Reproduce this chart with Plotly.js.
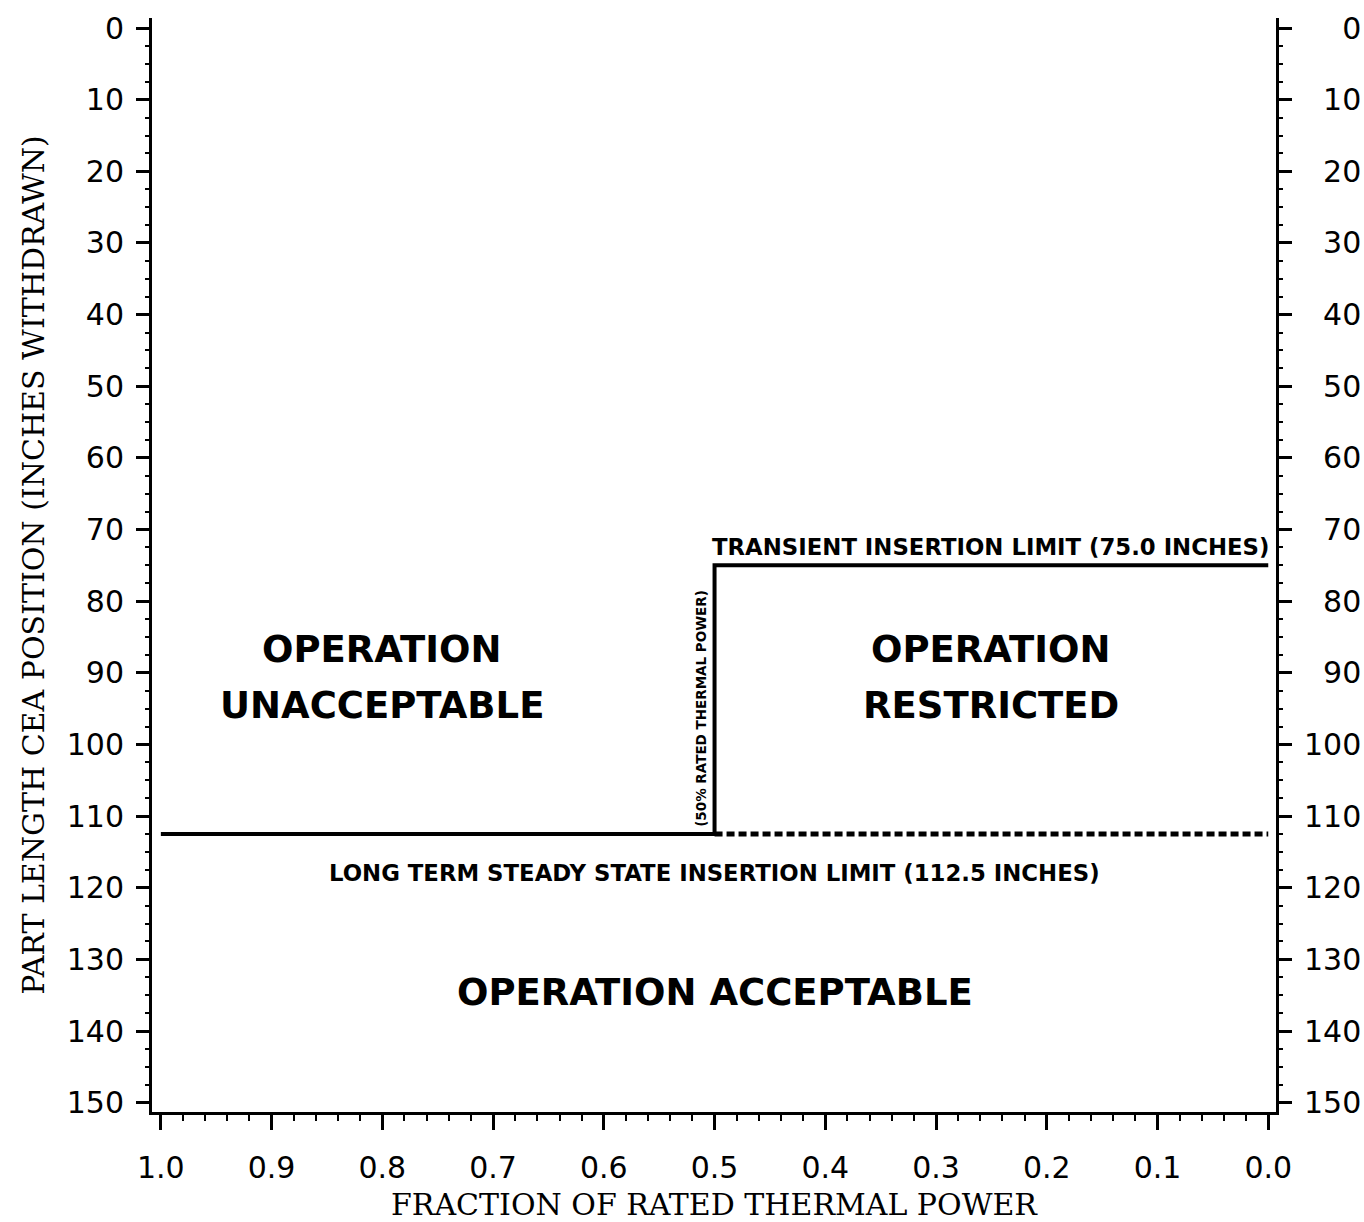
<!DOCTYPE html>
<html>
<head>
<meta charset="utf-8">
<script src="https://cdn.plot.ly/plotly-3.0.1.min.js"></script>
<style>html,body{margin:0;padding:0;background:#fff;}#chart{width:1364px;height:1222px;}</style>
</head>
<body>
<div id="chart"></div>
<script>
// ---- data ----
const transientX = [1.0, 0.5, 0.5, 0.0];
const transientY = [112.5, 112.5, 75.0, 75.0];
const steadyX = [0.5, 0.0];
const steadyY = [112.5, 112.5];
const xTickVals = [1.0, 0.9, 0.8, 0.7, 0.6, 0.5, 0.4, 0.3, 0.2, 0.1, 0.0];
const xTickText = ["1.0","0.9","0.8","0.7","0.6","0.5","0.4","0.3","0.2","0.1","0.0"];
const yTickVals = [0,10,20,30,40,50,60,70,80,90,100,110,120,130,140,150];
const regionLabels = ["OPERATION", "UNACCEPTABLE", "OPERATION", "RESTRICTED", "OPERATION ACCEPTABLE"];
const limitLabels = ["TRANSIENT INSERTION LIMIT (75.0 INCHES)",
                     "LONG TERM STEADY STATE INSERTION LIMIT (112.5 INCHES)",
                     "(50% RATED THERMAL POWER)"];
const xTitle = "FRACTION OF RATED THERMAL POWER";
const yTitle = "PART LENGTH CEA POSITION (INCHES WITHDRAWN)";

// right-axis labels right-aligned with figure spaces
const yTickTextLeft = yTickVals.map(v => String(v));
const yTickTextRight = yTickVals.map(v => { const s = String(v); return "\u2007".repeat(3 - s.length) + s; });

const xRange = [1.008, -0.007];
const yRange = [151.3, -1.4];

const tickFont = {family: "DejaVu Sans", size: 30, color: "#000"};
const titleFont = {family: "DejaVu Serif", size: 30, color: "#000"};

const traces = [
  {x: transientX, y: transientY, type: "scatter", mode: "lines",
   line: {color: "#000", width: 4, shape: "linear"}, hoverinfo: "skip", showlegend: false},
  {x: steadyX, y: steadyY, type: "scatter", mode: "lines",
   line: {color: "#000", width: 5, dash: "8px,4px"}, hoverinfo: "skip", showlegend: false},
  {x: [xRange[0]], y: [yRange[0]], xaxis: "x", yaxis: "y2", type: "scatter", mode: "markers",
   marker: {opacity: 0}, hoverinfo: "skip", showlegend: false}
];

const bold = (size) => ({family: "DejaVu Sans", size: size, color: "#000", weight: "bold"});
const ann = (text, x, y, size, extra) => Object.assign({
  text: text, x: x, y: y, xref: "x", yref: "y", showarrow: false,
  xanchor: "center", yanchor: "middle", font: bold(size)
}, extra || {});

const annotations = [
  ann(regionLabels[0], 0.80, 86.7, 37),
  ann(regionLabels[1], 0.80, 94.5, 37),
  ann(regionLabels[2], 0.25, 86.7, 37),
  ann(regionLabels[3], 0.25, 94.5, 37),
  ann(regionLabels[4], 0.50, 134.6, 37),
  ann(limitLabels[0], 0.251, 72.4, 22.8),
  ann(limitLabels[1], 0.50, 117.9, 22.8),
  ann(limitLabels[2], 0.513, 95.0, 13.5, {textangle: -90})
];

const axisCommon = {
  showgrid: false, zeroline: false, showline: true, linecolor: "#000", linewidth: 3,
  ticks: "outside", tickcolor: "#000", tickwidth: 3, tickfont: tickFont
};

const layout = {
  width: 1364, height: 1222,
  margin: {l: 152, r: 88, t: 18, b: 110, pad: 0},
  paper_bgcolor: "#fff", plot_bgcolor: "#fff",
  showlegend: false,
  xaxis: Object.assign({}, axisCommon, {
    range: xRange, tickmode: "array", tickvals: xTickVals, ticktext: xTickText,
    ticklen: 15, ticklabelstandoff: 12,
    minor: {dtick: 0.02, tick0: 0, ticks: "outside", ticklen: 6, tickwidth: 2, tickcolor: "#000"},
    title: {text: xTitle, font: titleFont, standoff: 12}
  }),
  yaxis: Object.assign({}, axisCommon, {
    range: yRange, tickmode: "array", tickvals: yTickVals, ticktext: yTickTextLeft,
    ticklen: 13, side: "left", ticklabelstandoff: 6,
    minor: {dtick: 2.5, tick0: 0, ticks: "outside", ticklen: 4, tickwidth: 2, tickcolor: "#000"},
    title: {text: yTitle, font: titleFont, standoff: 14}
  }),
  yaxis2: Object.assign({}, axisCommon, {
    range: yRange, tickmode: "array", tickvals: yTickVals, ticktext: yTickTextRight,
    ticklen: 13, side: "right", overlaying: "y", anchor: "x", ticklabelstandoff: 6,
    minor: {dtick: 2.5, tick0: 0, ticks: "outside", ticklen: 4, tickwidth: 2, tickcolor: "#000"}
  }),
  annotations: annotations
};

Plotly.newPlot("chart", traces, layout, {staticPlot: true, displayModeBar: false});
</script>
</body>
</html>
